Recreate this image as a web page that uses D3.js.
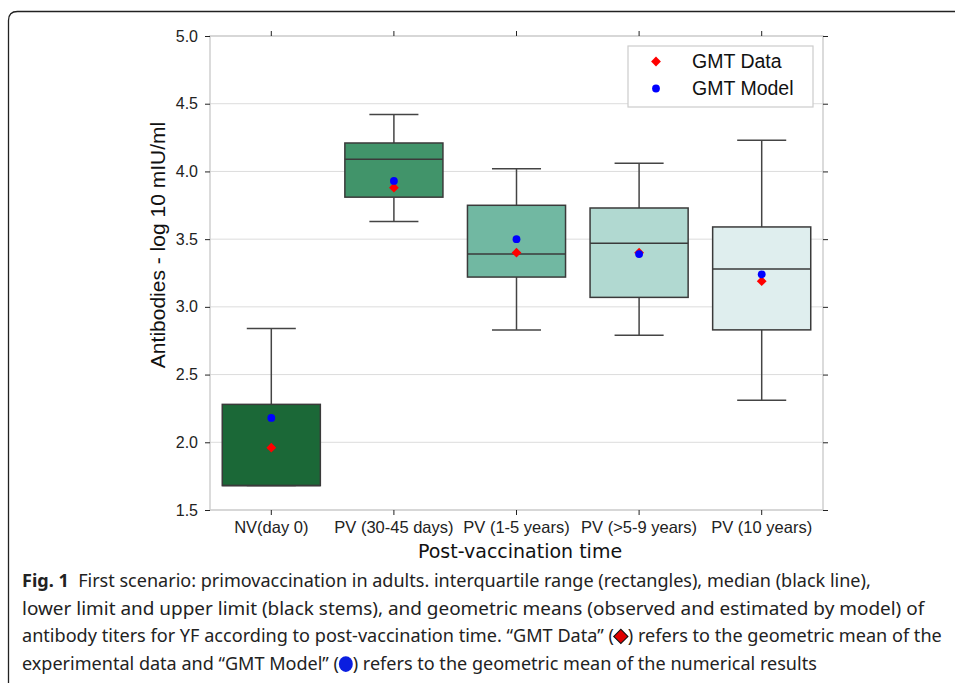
<!DOCTYPE html>
<html>
<head>
<meta charset="utf-8">
<script src="https://cdn.jsdelivr.net/npm/d3@7/dist/d3.min.js"></script>
<style>
  html, body { margin: 0; padding: 0; background: #fff; }
  svg { display: block; }
</style>
</head>
<body>
<svg id="chart" width="955" height="683"></svg>
<script>
// ---- data ----
const categories = ["NV(day 0)", "PV (30-45 days)", "PV (1-5 years)", "PV (>5-9 years)", "PV (10 years)"];
const whiskerLow  = [1.68, 3.63, 2.83, 2.79, 2.31];
const q1          = [1.68, 3.81, 3.22, 3.07, 2.83];
const median      = [1.68, 4.09, 3.39, 3.47, 3.28];
const q3          = [2.28, 4.21, 3.75, 3.73, 3.59];
const whiskerHigh = [2.84, 4.42, 4.02, 4.06, 4.23];
const gmtData     = [1.96, 3.88, 3.40, 3.40, 3.19];
const gmtModel    = [2.18, 3.93, 3.50, 3.39, 3.24];
const boxColors   = ["#1b6837", "#41946a", "#71b8a2", "#b1d9d1", "#dfeeee"];
const yTicks      = [1.5, 2.0, 2.5, 3.0, 3.5, 4.0, 4.5, 5.0];
const legendLabels = ["GMT Data", "GMT Model"];
const captionLines = [
  [["Fig. 1", "bold"], ["  First scenario: primovaccination in adults. interquartile range (rectangles), median (black line),", "normal"]],
  [["lower limit and upper limit (black stems), and geometric means (observed and estimated by model) of", "normal"]],
  [["antibody titers for YF according to post-vaccination time. \u201cGMT Data\u201d (", "normal"], ["DIAMOND", "sym"], [") refers to the geometric mean of the", "normal"]],
  [["experimental data and \u201cGMT Model\u201d (", "normal"], ["CIRCLE", "sym"], [") refers to the geometric mean of the numerical results", "normal"]]
];
const captionWidths = [849, 903, 920, 795];

// ---- layout ----
const svg = d3.select("#chart");
const L = 210, R = 823, T = 36, B = 510;

// outer frame
svg.append("path")
  .attr("d", `M8.5,683 L8.5,${11.5 + 9} Q8.5,11.5 ${8.5 + 9},11.5 L955,11.5`)
  .attr("fill", "none").attr("stroke", "#222").attr("stroke-width", 1.3);

const x = d3.scaleBand().domain(categories).range([L, R]).padding(0);
const y = d3.scaleLinear().domain([1.5, 5.0]).range([B, T]);

// grid
svg.append("g").selectAll("line").data(yTicks).join("line")
  .attr("x1", L).attr("x2", R)
  .attr("y1", d => y(d)).attr("y2", d => y(d))
  .attr("stroke", "#dcdcdc").attr("stroke-width", 1);

// spines
svg.append("rect").attr("x", L).attr("y", T).attr("width", R - L).attr("height", B - T)
  .attr("fill", "none").attr("stroke", "#cfcfcf").attr("stroke-width", 1.5);

// axes (ticks only, no domain)
const tickStyle = g => { g.select(".domain").remove(); g.selectAll(".tick line").attr("stroke", "#222"); };
const axL = svg.append("g").attr("transform", `translate(${L},0)`)
  .call(d3.axisLeft(y).tickValues(yTicks).tickFormat(d3.format(".1f")).tickSizeInner(5).tickPadding(7));
tickStyle(axL);
axL.selectAll("text").attr("font-family", "Liberation Sans, Arial, sans-serif").attr("font-size", "16px").attr("fill", "#222");
const axR = svg.append("g").attr("transform", `translate(${R},0)`)
  .call(d3.axisRight(y).tickValues(yTicks).tickFormat("").tickSizeInner(5));
tickStyle(axR);
const axB = svg.append("g").attr("transform", `translate(0,${B})`)
  .call(d3.axisBottom(x).tickSizeInner(5).tickPadding(6));
tickStyle(axB);
axB.selectAll("text").attr("font-family", "Liberation Sans, Arial, sans-serif").attr("font-size", "16.5px").attr("fill", "#222");
const axT = svg.append("g").attr("transform", `translate(0,${T})`)
  .call(d3.axisTop(x).tickFormat("").tickSizeInner(5));
tickStyle(axT);

// boxes
const bw = x.bandwidth() * 0.8;
const capW = x.bandwidth() * 0.4;
const idx = d3.range(categories.length);
const gB = svg.append("g");
idx.forEach(i => {
  const cx = x(categories[i]) + x.bandwidth() / 2;
  const g = gB.append("g");
  g.append("line").attr("x1", cx).attr("x2", cx).attr("y1", y(q3[i])).attr("y2", y(whiskerHigh[i]))
    .attr("stroke", "#444").attr("stroke-width", 1.5);
  g.append("line").attr("x1", cx).attr("x2", cx).attr("y1", y(q1[i])).attr("y2", y(whiskerLow[i]))
    .attr("stroke", "#444").attr("stroke-width", 1.5);
  g.append("line").attr("x1", cx - capW / 2).attr("x2", cx + capW / 2).attr("y1", y(whiskerHigh[i])).attr("y2", y(whiskerHigh[i]))
    .attr("stroke", "#444").attr("stroke-width", 1.5);
  g.append("line").attr("x1", cx - capW / 2).attr("x2", cx + capW / 2).attr("y1", y(whiskerLow[i])).attr("y2", y(whiskerLow[i]))
    .attr("stroke", "#444").attr("stroke-width", 1.5);
  g.append("rect").attr("x", cx - bw / 2).attr("y", y(q3[i])).attr("width", bw).attr("height", y(q1[i]) - y(q3[i]))
    .attr("fill", boxColors[i]).attr("stroke", "#3a3a3a").attr("stroke-width", 1.5);
  g.append("line").attr("x1", cx - bw / 2).attr("x2", cx + bw / 2).attr("y1", y(median[i])).attr("y2", y(median[i]))
    .attr("stroke", "#3a3a3a").attr("stroke-width", 1.5);
});

// markers
const diamond = d3.symbol().type(d3.symbolSquare).size(48);
svg.append("g").selectAll("path").data(idx).join("path")
  .attr("d", diamond)
  .attr("transform", i => `translate(${x(categories[i]) + x.bandwidth() / 2},${y(gmtData[i])}) rotate(45)`)
  .attr("fill", "#ff0000");
svg.append("g").selectAll("circle").data(idx).join("circle")
  .attr("cx", i => x(categories[i]) + x.bandwidth() / 2).attr("cy", i => y(gmtModel[i]))
  .attr("r", 3.9).attr("fill", "#0000ff");

// legend
const lg = svg.append("g");
lg.append("rect").attr("x", 628).attr("y", 46).attr("width", 185).attr("height", 61)
  .attr("fill", "#fff").attr("stroke", "#cccccc").attr("stroke-width", 1.2);
lg.append("path").attr("d", diamond).attr("transform", "translate(656,61.5) rotate(45)").attr("fill", "#ff0000");
lg.append("circle").attr("cx", 656).attr("cy", 88.5).attr("r", 3.9).attr("fill", "#0000ff");
lg.selectAll("text").data(legendLabels).join("text")
  .attr("x", 692).attr("y", (d, i) => 68 + i * 27)
  .attr("font-family", "Liberation Sans, Arial, sans-serif").attr("font-size", "19.5px").attr("fill", "#111")
  .text(d => d);

// axis titles
svg.append("text").attr("transform", `translate(165,${(T + B) / 2 - 28}) rotate(-90)`)
  .attr("text-anchor", "middle").attr("font-family", "Liberation Sans, Arial, sans-serif").attr("font-size", "21px").attr("fill", "#111")
  .text("Antibodies - log 10 mIU/ml");
svg.append("text").attr("x", 520).attr("y", 558).attr("text-anchor", "middle")
  .attr("font-family", "DejaVu Sans, sans-serif").attr("font-size", "19px").attr("fill", "#111")
  .text("Post-vaccination time");

// caption
const cap = svg.append("g");
captionLines.forEach((line, li) => {
  const t = cap.append("text").attr("x", 0).attr("y", 0)
    .attr("font-family", "Noto Sans, sans-serif").attr("font-size", "18px").attr("fill", "#222")
    .attr("xml:space", "preserve").style("white-space", "pre");
  line.forEach(([s, w]) => {
    if (w === "sym") {
      t.append("tspan").attr("class", "sym").attr("data-kind", s).attr("fill", "none").text("\u2002\u2009\u200a");
    } else {
      t.append("tspan").attr("font-weight", w === "bold" ? "bold" : "normal").text(s);
    }
  });
  const natural = t.node().getComputedTextLength();
  const sx = captionWidths[li] / natural;
  const by = 587 + li * 27.7;
  const gx = 22;
  t.attr("transform", `translate(${gx},${by}) scale(${sx},1)`);
  t.selectAll("tspan.sym").each(function() {
    const kind = this.getAttribute("data-kind");
    const n = this.getNumberOfChars();
    const start = this.getStartPositionOfChar(0).x;
    const end = this.getEndPositionOfChar(n - 1).x;
    const mx = gx + ((start + end) / 2) * sx;
    const my = by - 6;
    if (kind === "DIAMOND") {
      cap.append("path").attr("d", d3.symbol().type(d3.symbolSquare).size(100))
        .attr("transform", `translate(${mx},${my}) rotate(45)`)
        .attr("fill", "#e00000").attr("stroke", "#111").attr("stroke-width", 1.1);
    } else {
      cap.append("ellipse").attr("cx", mx).attr("cy", my).attr("rx", 7).attr("ry", 7.8)
        .attr("fill", "#0a1ee0");
    }
  });
});
</script>
</body>
</html>
